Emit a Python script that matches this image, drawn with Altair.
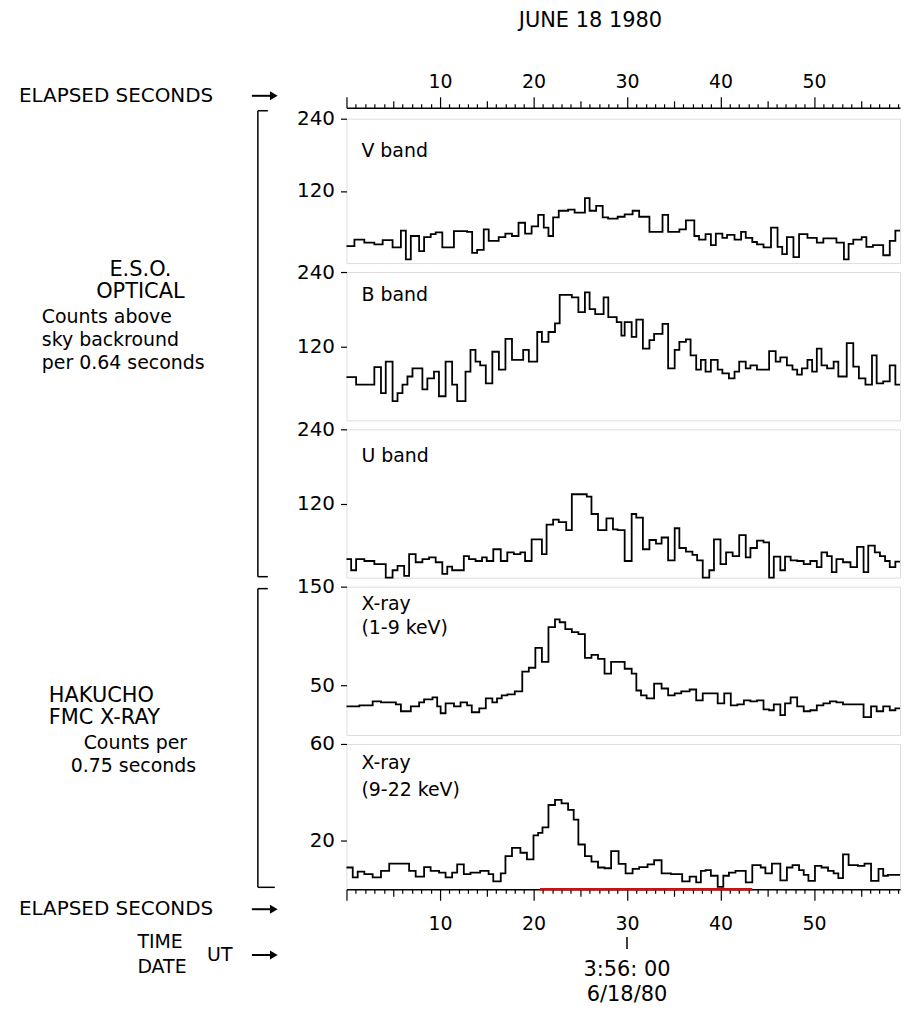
import altair as alt
import pandas as pd

FONT = "DejaVu Sans"
X_END = 59.2
W = 556
H = [145, 149, 149, 149, 146]
GAP = 9

# ---------------- data (segment start seconds, level) ----------------
V_T = [0.0, 0.85, 1.91, 2.98, 3.87, 4.93, 5.82, 6.35, 6.88, 7.77,
       8.30, 9.01, 9.54, 10.25, 11.49, 12.9, 13.44, 13.97, 14.68, 15.21,
       16.28, 16.99, 17.7, 18.4, 19.1, 19.8, 20.5, 21.1, 21.6, 22.1,
       22.7, 23.7, 24.4, 25.5, 26.0, 26.7, 27.4, 27.98, 29.0, 29.75,
       30.6, 31.3, 32.4, 33.8, 34.4, 35.6, 36.3, 37.2, 37.7, 38.4,
       38.97, 39.5, 40.2, 40.7, 41.5, 42.2, 42.7, 43.4, 43.9, 44.6,
       45.4, 46.1, 46.6, 47.1, 47.8, 48.4, 49.3, 50.3, 51.0, 52.4,
       53.2, 53.7, 54.2, 55.1, 55.6, 56.3, 57.4, 58.1, 58.7]
V_VAL = [28, 39, 34, 31, 38, 26, 54, 6, 45, 20,
         43, 48, 51, 26, 53, 52, 17, 22, 56, 37,
         43, 49, 45, 67, 49, 61, 80, 59, 45, 76,
         87, 89, 84, 108, 87, 95, 76, 74, 77, 81,
         87, 77, 52, 80, 52, 56, 71, 45, 39, 48,
         30, 49, 42, 47, 39, 52, 42, 35, 31, 26,
         59, 27, 15, 43, 10, 48, 42, 34, 41, 34,
         6, 32, 39, 43, 27, 30, 13, 37, 54]

B_T = [0.0, 1.03, 2.98, 3.69, 4.2, 4.93, 5.46, 5.99, 6.52, 7.06,
       8.12, 8.65, 9.36, 9.89, 10.6, 11.3, 11.84, 12.73, 13.26, 13.8,
       14.3, 14.9, 15.6, 16.3, 17.0, 17.7, 18.9, 19.5, 20.4, 20.9,
       21.6, 22.3, 22.8, 24.1, 24.8, 25.5, 26.0, 26.6, 27.5, 28.0,
       28.9, 29.4, 29.75, 30.5, 31.0, 31.7, 32.4, 32.9, 33.8, 34.4,
       35.1, 35.6, 36.3, 36.8, 37.4, 37.9, 38.4, 38.97, 39.7, 40.2,
       40.9, 41.5, 42.0, 42.7, 43.2, 43.9, 45.2, 45.9, 46.4, 47.1,
       47.7, 48.2, 48.7, 49.3, 49.8, 50.3, 50.8, 51.4, 52.1, 52.6,
       53.5, 54.2, 54.8, 55.5, 56.2, 56.7, 57.4, 58.1, 58.7]
B_VAL = [70, 58, 86, 44, 95, 31, 44, 58, 71, 84,
         50, 68, 79, 39, 95, 58, 31, 79, 114, 95,
         89, 60, 111, 82, 132, 98, 114, 95, 143, 127,
         143, 157, 203, 199, 175, 207, 180, 172, 199, 167,
         159, 137, 159, 135, 163, 116, 130, 140, 156, 84,
         114, 127, 131, 105, 82, 98, 79, 98, 82, 76,
         68, 79, 95, 84, 89, 82, 112, 95, 102, 89,
         82, 74, 84, 98, 79, 116, 89, 84, 95, 71,
         125, 87, 68, 58, 105, 60, 63, 89, 58]

U_T = [0.0, 0.5, 1.03, 1.91, 2.98, 4.2, 4.93, 5.46, 6.17, 6.7,
       7.4, 8.12, 8.83, 9.54, 10.25, 10.78, 11.3, 12.55, 13.1, 13.8,
       14.5, 15.0, 15.7, 16.5, 17.2, 17.9, 18.6, 19.1, 19.8, 20.9,
       21.4, 22.1, 22.7, 23.5, 24.1, 25.7, 26.2, 26.9, 27.8, 28.5,
       29.0, 29.75, 30.5, 30.99, 31.7, 32.4, 33.1, 33.7, 34.4, 35.1,
       35.6, 36.3, 37.0, 37.5, 38.1, 38.8, 39.3, 40.0, 40.6, 41.3,
       42.0, 42.7, 43.2, 43.9, 44.6, 45.2, 45.7, 46.4, 46.9, 47.5,
       48.2, 48.9, 49.6, 50.3, 50.8, 51.4, 51.9, 52.4, 53.1, 53.9,
       54.6, 55.3, 55.8, 56.5, 57.05, 57.6, 58.1, 58.7]
U_VAL = [30, 12, 30, 27, 22, 0, 12, 19, 3, 38,
         25, 30, 33, 25, 6, 18, 12, 35, 30, 27,
         33, 27, 46, 27, 41, 38, 41, 27, 62, 38,
         86, 94, 90, 77, 135, 131, 103, 77, 96, 78,
         77, 27, 103, 97, 46, 61, 55, 65, 28, 80,
         48, 42, 37, 28, 0, 12, 62, 22, 41, 35,
         69, 33, 48, 60, 57, 0, 34, 12, 34, 28,
         27, 22, 27, 17, 41, 35, 9, 30, 25, 17,
         50, 9, 52, 41, 35, 27, 17, 26]

X1_T = [0.0, 1.38, 2.8, 3.69, 5.28, 5.82, 6.88, 7.77, 8.3, 9.2,
        9.7, 10.07, 10.6, 11.5, 12.2, 12.9, 13.4, 14.2, 14.9, 15.6,
        16.1, 16.6, 17.2, 18.0, 18.8, 19.5, 20.2, 20.9, 21.6, 22.3,
        22.8, 23.4, 24.1, 24.8, 25.5, 26.2, 26.9, 27.6, 28.3, 29.75,
        30.5, 31.0, 31.5, 32.1, 32.9, 33.7, 34.4, 35.1, 35.8, 36.7,
        37.4, 38.1, 39.7, 40.4, 41.1, 41.8, 42.5, 43.2, 43.9, 44.6,
        45.2, 45.7, 46.4, 46.9, 47.5, 48.2, 48.9, 49.6, 50.3, 51.0,
        51.7, 52.4, 53.1, 55.3, 56.1, 56.7, 57.4, 58.1, 58.7]
X1_VAL = [29, 30, 34, 33, 31, 24, 29, 33, 36, 38,
          29, 22, 32, 29, 33, 30, 23, 27, 37, 33,
          37, 40, 41, 44, 64, 68, 88, 74, 109, 117,
          114, 107, 104, 102, 78, 81, 77, 62, 74, 67,
          62, 45, 40, 37, 52, 47, 40, 42, 44, 46,
          35, 42, 32, 42, 30, 31, 35, 34, 35, 26,
          25, 31, 20, 32, 38, 29, 24, 25, 30, 32,
          34, 33, 31, 18, 29, 24, 29, 25, 27]

X2_T = [0.0, 0.67, 1.2, 1.91, 2.8, 3.69, 4.57, 6.7, 7.4, 8.3,
        9.0, 9.9, 10.6, 11.3, 11.84, 12.55, 13.26, 14.3, 15.2, 15.7,
        16.5, 17.0, 17.7, 18.6, 19.3, 20.0, 20.5, 20.96, 21.6, 22.3,
        23.0, 23.7, 24.3, 24.8, 25.5, 26.2, 26.9, 27.6, 28.3, 29.1,
        29.85, 30.6, 31.3, 32.2, 32.9, 33.7, 34.7, 35.9, 36.7, 37.4,
        37.9, 38.4, 38.97, 39.7, 40.3, 40.9, 41.6, 42.7, 43.4, 44.3,
        44.8, 45.5, 46.4, 47.1, 47.7, 48.4, 48.9, 49.4, 50.1, 50.8,
        51.5, 52.1, 52.6, 53.1, 53.7, 54.7, 55.4, 56.1, 56.9, 57.4,
        57.9]
X2_VAL = [9.0, 4.9, 7.3, 6.3, 4.9, 7.6, 10.6, 7.6, 5.2, 9.2,
          7.6, 6.9, 4.9, 6.9, 10.3, 6.3, 6.9, 7.6, 6.3, 3.3,
          6.6, 13.7, 17.1, 15.1, 12.4, 22.3, 23.3, 25.6, 34.8, 36.9,
          35.5, 32.8, 28.8, 18.5, 13.7, 11.4, 9.0, 8.7, 15.8, 10.5,
          6.6, 8.4, 9.2, 10.3, 12.0, 6.6, 6.3, 3.3, 5.2, 2.9,
          7.6, 7.9, 5.6, 1.0, 5.6, 6.9, 7.6, 2.9, 10.0, 9.0,
          6.6, 10.6, 3.7, 9.0, 10.0, 7.9, 6.0, 3.5, 9.7, 9.0,
          7.6, 6.6, 4.6, 14.4, 10.0, 9.7, 10.6, 3.5, 8.4, 5.6,
          6.0]

RED_START, RED_END = 20.7, 43.4
UT_MARK = 30

# ---------------- helpers ----------------
XS = alt.Scale(domain=[0, X_END], nice=False, zero=False)
TICK_VALUES = list(range(0, 60))
TICK_SIZE = {"condition": [{"test": "datum.value % 10 === 0", "value": 11},
                           {"test": "datum.value % 5 === 0", "value": 7}],
             "value": 4}
LABEL_EXPR = "datum.value % 10 === 0 && datum.value > 0 ? datum.label : ''"
ONE = pd.DataFrame({"a": [0]})


def x_axis(orient, offset, pad):
    return alt.Axis(orient=orient, offset=offset, values=TICK_VALUES, tickCount=200,
                    format="d", labelExpr=LABEL_EXPR, tickSize=TICK_SIZE,
                    labelOverlap=False, labelFont=FONT, labelFontSize=19,
                    labelColor="black", labelPadding=pad, domainColor="black",
                    domainWidth=1.5, tickColor="black", tickWidth=1.2, grid=False,
                    title=None)


def step_df(t, v):
    return pd.DataFrame({"t": list(t) + [X_END], "v": list(v) + [v[-1]]})


def text(s, x, y, size=19, align="left"):
    return alt.Chart(pd.DataFrame({"s": [s]})).mark_text(
        align=align, baseline="middle", font=FONT, fontSize=size, color="black"
    ).encode(x=x, y=alt.value(y), text="s:N")


def vrule(x, y1, y2):
    return alt.Chart(ONE).mark_rule(color="black", strokeWidth=1.5).encode(
        x=alt.value(x), y=alt.value(y1), y2=alt.value(y2))


def hrule(x1, x2, y, w=1.5):
    return alt.Chart(ONE).mark_rule(color="black", strokeWidth=w).encode(
        x=alt.value(x1), x2=alt.value(x2), y=alt.value(y))


def arrow(x1, y):
    # short arrow drawn after the ELAPSED SECONDS / UT labels
    shaft = hrule(x1, x1 + 20, y, 2)
    head = alt.Chart(ONE).mark_point(shape="triangle-right", filled=True, color="black",
                                     size=80, opacity=1).encode(
        x=alt.value(x1 + 22), y=alt.value(y))
    return [shaft, head]


def panel(t, v, ymax, yvals, h, labels, xaxis=None, extra=()):
    line = alt.Chart(step_df(t, v)).mark_line(
        interpolate="step-after", color="black", strokeWidth=1.8
    ).encode(
        x=alt.X("t:Q", scale=XS, axis=xaxis),
        y=alt.Y("v:Q", scale=alt.Scale(domain=[0, ymax], nice=False),
                axis=alt.Axis(values=yvals, domain=False, tickSize=6,
                              tickColor="black", tickWidth=1.2, labelFont=FONT,
                              labelFontSize=20, labelColor="black",
                              labelPadding=6, grid=False, title=None)),
    )
    layers = [line]
    for s, yy in labels:
        layers.append(text(s, alt.value(15), yy, 19))
    layers += list(extra)
    return alt.layer(*layers).properties(width=W, height=h)


# annotations, coordinates relative to the V panel plot origin (347, 118)
annot = [
    text("JUNE 18 1980", alt.value(245), -98, 21, "center"),
    text("ELAPSED SECONDS", alt.value(-329), -23, 20),
    *arrow(-95, -23),
    text("E.S.O.", alt.value(-207), 152, 21, "center"),
    text("OPTICAL", alt.value(-207), 174, 21, "center"),
    text("Counts above", alt.value(-306), 199, 19),
    text("sky backround", alt.value(-306), 222, 19),
    text("per 0.64 seconds", alt.value(-306), 245, 19),
    text("HAKUCHO", alt.value(-299), 580, 21),
    text("FMC X-RAY", alt.value(-299), 602, 21),
    text("Counts per", alt.value(-264), 627, 19),
    text("0.75 seconds", alt.value(-277), 650, 19),
    text("ELAPSED SECONDS", alt.value(-329), 794, 20),
    *arrow(-95, 794),
    text("TIME", alt.value(-210), 827, 19),
    text("DATE", alt.value(-210), 852, 19),
    text("UT", alt.value(-140), 840, 19),
    *arrow(-95, 840),
    text("3:56: 00", alt.datum(UT_MARK), 855, 21, "center"),
    text("6/18/80", alt.datum(UT_MARK), 880, 21, "center"),
    alt.Chart(ONE).mark_rule(color="black", strokeWidth=1.5).encode(
        x=alt.datum(UT_MARK), y=alt.value(822), y2=alt.value(834)),
    vrule(-89, -8, 460), hrule(-89, -79, -8), hrule(-89, -79, 460),
    vrule(-89, 472, 772), hrule(-89, -79, 472), hrule(-89, -72, 772),
]

red = alt.Chart(pd.DataFrame({"s": [RED_START], "e": [RED_END]})).mark_rule(
    color="#cc1111", strokeWidth=2.5).encode(x="s:Q", x2="e:Q", y=alt.value(H[4]))

p_v = panel(V_T, V_VAL, 240, [120, 240], H[0], [("V band", 32)],
            xaxis=x_axis("top", 11, 5), extra=annot)
p_b = panel(B_T, B_VAL, 240, [120, 240], H[1], [("B band", 23)])
p_u = panel(U_T, U_VAL, 240, [120, 240], H[2], [("U band", 27)])
p_x1 = panel(X1_T, X1_VAL, 150, [50, 150], H[3], [("X-ray", 17), ("(1-9 keV)", 42)])
p_x2 = panel(X2_T, X2_VAL, 60, [20, 60], H[4], [("X-ray", 19), ("(9-22 keV)", 46)],
             xaxis=x_axis("bottom", 0, 14), extra=[red])

chart = alt.vconcat(p_v, p_b, p_u, p_x1, p_x2, spacing=GAP, bounds="flush").properties(
    padding={"left": 18, "top": 7, "right": 4, "bottom": 4}
).configure_view(stroke="black", strokeWidth=1.5).configure(background="white")

chart.save("out.html", embed_options={"renderer": "svg", "actions": False})
